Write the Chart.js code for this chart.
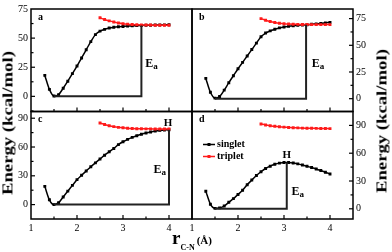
<!DOCTYPE html>
<html>
<head>
<meta charset="utf-8">
<script src="https://cdn.jsdelivr.net/npm/chart.js@4.4.1/dist/chart.umd.min.js"></script>
<style>
  body { margin: 0; background: #fff; }
  #wrap { position: relative; width: 392px; height: 252px; overflow: hidden; font-family: "Liberation Serif", serif; }
  canvas { position: absolute; left: 0; top: 0; }
  .ytitle { position: absolute; font-weight: bold; font-size: 17px; white-space: nowrap; line-height: 17px;
            transform: translate(-50%, -50%) rotate(-90deg) scale(1.1, 0.9); }
  #xtitle { position: absolute; left: 172px; top: 228px; font-weight: bold; font-size: 19px; line-height: 19px; white-space: nowrap; }
</style>
</head>
<body>
<div id="wrap">
  <canvas id="pa" width="392" height="252"></canvas>
  <canvas id="pb" width="392" height="252"></canvas>
  <canvas id="pc" width="392" height="252"></canvas>
  <canvas id="pd" width="392" height="252"></canvas>
  <div class="ytitle" style="left:7.5px;top:123px">Energy (kcal/mol)</div>
  <div class="ytitle" style="left:382px;top:121px">Energy (kcal/mol)</div>
  <div id="xtitle">r<span style="font-size:8px;position:relative;top:6px">C-N</span><span style="font-size:11px;margin-left:2px">(Å)</span></div>
</div>
<script>
// distancias C-N (Å)
const rSinglet = [1.3, 1.4, 1.5, 1.6, 1.7, 1.8, 1.9, 2.0, 2.1, 2.2, 2.3, 2.4, 2.5, 2.6, 2.7, 2.8, 2.9, 3.0,
                  3.1, 3.2, 3.3, 3.4, 3.5, 3.6, 3.7, 3.8, 3.9, 4.0];
const rTriplet = [2.5, 2.6, 2.7, 2.8, 2.9, 3.0, 3.1, 3.2, 3.3, 3.4, 3.5, 3.6, 3.7, 3.8, 3.9, 4.0];

// energias (kcal/mol) de cada panel
const singletA = [18, 6, 0.3, 1.5, 7, 13, 19.5, 26, 33, 40, 47, 53, 56, 57.5, 58.7, 59.3, 59.7, 60,
                  60.3, 60.5, 60.7, 60.9, 61, 61.1, 61.2, 61.3, 61.4, 61.5];
const tripletA = [67.5, 66, 64.8, 63.8, 63, 62.4, 62, 61.7, 61.5, 61.3, 61.2, 61.2, 61.1, 61.1, 61.1, 61.1];
const singletB = [19, 6, 0.5, 2, 8, 15, 21.5, 28, 34, 40, 46, 52, 58, 61.5, 63.5, 65, 66.3, 67.2,
                  67.8, 68.3, 68.7, 69, 69.3, 69.7, 70.1, 70.5, 71, 71.5];
const tripletB = [75, 73.5, 72.3, 71.4, 70.7, 70.2, 69.9, 69.7, 69.6, 69.5, 69.5, 69.4, 69.4, 69.4, 69.4, 69.4];
const singletC = [19, 5, 0, 2, 8, 14, 20, 26, 30.5, 35, 39.5, 43.5, 47.5, 51.5, 55, 58.5, 62.5, 65.5,
                  68, 70, 71.8, 73.3, 74.6, 75.7, 76.6, 77.3, 77.8, 78];
const tripletC = [85, 83.5, 82.2, 81.2, 80.5, 80, 79.6, 79.3, 79.1, 79, 78.9, 78.9, 78.8, 78.8, 78.8, 78.8];
const singletD = [19, 5, 0.5, 1, 3, 7, 11, 15.5, 20, 26, 31, 36, 40, 43.5, 46, 48, 49.3, 50,
                  50, 49.5, 48.5, 47.3, 46, 44.5, 43, 41.3, 39.5, 37.5];
const tripletD = [91.5, 90.5, 89.7, 89, 88.5, 88.1, 87.8, 87.5, 87.3, 87.1, 87, 86.9, 86.8, 86.7, 86.6, 86.5];

// linea de Ea: desde el minimo hasta el punto (eaX, eaY)
const eaStart = 1.5;
const eaX = [3.4, 3.48, 4.0, 3.06];
const eaY = [60.9, 69.2, 78, 50];
// posicion de las etiquetas "Ea" y "H"
const eaLabelX = [3.62, 3.74, 3.8, 3.3];
const eaLabelY = [27.7, 32.8, 36.5, 18.7];
const hLabelX = [null, null, 3.98, 3.06];
const hLabelY = [null, null, 85, 58];

// ejes
const xTicks = [1, 2, 3, 4];
const yTicksAB = [0, 25, 50, 75];
const yTicksCD = [0, 30, 60, 90];
const yMin = [-13, -12, -15, -11];
const yMax = [75, 84, 97, 105];
const panelLetters = ['a', 'b', 'c', 'd'];
const legendLabels = ['singlet', 'triplet'];

Chart.defaults.font.family = '"Liberation Serif", "Times New Roman", serif';
Chart.defaults.font.size = 10;
Chart.defaults.color = '#000';

const toXY = (xs, ys) => xs.map((x, i) => ({ x: x, y: ys[i] }));

// marco y marcas hacia adentro
const framePlugin = {
  id: 'frame',
  afterDatasetsDraw(chart, args, opts) {
    const { ctx, chartArea: a } = chart;
    ctx.save();
    ctx.strokeStyle = '#000';
    ctx.lineWidth = 1.2;
    const xs = chart.scales.x;
    xs.ticks.forEach(t => {
      if (t.value <= xs.min || t.value >= xs.max) return;
      const px = xs.getPixelForValue(t.value);
      const len = xTicks.includes(t.value) ? 4 : 2.5;
      ctx.beginPath(); ctx.moveTo(px, a.bottom); ctx.lineTo(px, a.bottom - len); ctx.stroke();
    });
    const ys = chart.scales.y;
    const right = ys.options.position === 'right';
    const edge = right ? a.right : a.left;
    const dir = right ? -1 : 1;
    ys.ticks.forEach(t => {
      if (t.value <= ys.min || t.value >= ys.max) return;
      const py = ys.getPixelForValue(t.value);
      const len = opts.major.includes(t.value) ? 4 : 2.5;
      ctx.beginPath(); ctx.moveTo(edge, py); ctx.lineTo(edge + dir * len, py); ctx.stroke();
    });
    ctx.lineWidth = 1.5;
    ctx.strokeRect(a.left, a.top, a.right - a.left, a.bottom - a.top);
    ctx.restore();
  }
};

// letras del panel, Ea, H y leyenda
const notesPlugin = {
  id: 'notes',
  afterDatasetsDraw(chart, args, opts) {
    const { ctx, chartArea: a } = chart;
    const xs = chart.scales.x, ys = chart.scales.y;
    const i = opts.index;
    ctx.save();
    ctx.fillStyle = '#000';
    ctx.textBaseline = 'middle';
    ctx.textAlign = 'left';
    ctx.font = 'bold 10px "Liberation Serif"';
    ctx.fillText(panelLetters[i], a.left + 7, a.top + 8);

    // Ea
    const ex = xs.getPixelForValue(eaLabelX[i]);
    const ey = ys.getPixelForValue(eaLabelY[i]);
    ctx.font = 'bold 12px "Liberation Serif"';
    const wE = ctx.measureText('E').width;
    ctx.font = 'bold 9px "Liberation Serif"';
    const wa = ctx.measureText('a').width;
    const x0 = ex - (wE + wa) / 2;
    ctx.font = 'bold 12px "Liberation Serif"';
    ctx.fillText('E', x0, ey);
    ctx.font = 'bold 9px "Liberation Serif"';
    ctx.fillText('a', x0 + wE, ey + 3);

    if (hLabelX[i] !== null) {
      ctx.font = 'bold 11px "Liberation Serif"';
      ctx.textAlign = 'center';
      ctx.fillText('H', xs.getPixelForValue(hLabelX[i]), ys.getPixelForValue(hLabelY[i]));
    }

    if (opts.legend) {
      const colors = ['#000', '#ff1a1a'];
      legendLabels.forEach((lab, k) => {
        const ly = a.top + 33 + k * 12;
        ctx.strokeStyle = colors[k];
        ctx.fillStyle = colors[k];
        ctx.lineWidth = 1.5;
        ctx.beginPath(); ctx.moveTo(a.left + 11, ly); ctx.lineTo(a.left + 23, ly); ctx.stroke();
        ctx.fillRect(a.left + 15.5, ly - 1.5, 3, 3);
        ctx.fillStyle = '#000';
        ctx.textAlign = 'left';
        ctx.font = 'bold 10px "Liberation Serif"';
        ctx.fillText(lab, a.left + 25, ly);
      });
    }
    ctx.restore();
  }
};

function makePanel(id, index, singlet, triplet, opt) {
  const major = index < 2 ? yTicksAB : yTicksCD;
  const step = (major[1] - major[0]) / 2;
  return new Chart(document.getElementById(id), {
    type: 'line',
    data: {
      datasets: [
        {
          label: 'Ea',
          data: [{ x: eaStart, y: 0 }, { x: eaX[index], y: 0 }, { x: eaX[index], y: eaY[index] }],
          borderColor: '#222',
          borderWidth: 2,
          pointRadius: 0,
          tension: 0
        },
        {
          label: 'triplet',
          data: toXY(rTriplet, triplet),
          borderColor: '#ff1a1a',
          backgroundColor: '#ff1a1a',
          borderWidth: 1.5,
          pointStyle: 'rect',
          pointRadius: 1,
          cubicInterpolationMode: 'monotone'
        },
        {
          label: 'singlet',
          data: toXY(rSinglet, singlet),
          borderColor: '#000',
          backgroundColor: '#000',
          borderWidth: 1.5,
          pointStyle: 'rect',
          pointRadius: 1,
          cubicInterpolationMode: 'monotone'
        }
      ]
    },
    options: {
      responsive: false,
      animation: false,
      layout: { padding: opt.padding },
      scales: {
        x: {
          type: 'linear',
          min: 1,
          max: 4.5,
          grid: { display: false, drawTicks: false },
          border: { display: false },
          ticks: {
            display: opt.xLabels,
            stepSize: 0.5,
            autoSkip: false,
            maxRotation: 0,
            padding: 3,
            includeBounds: false,
            callback: v => xTicks.includes(v) ? v : ''
          },
          afterFit: s => { s.height = opt.xLabels ? 16 : 0; }
        },
        y: {
          type: 'linear',
          position: opt.yPos,
          min: yMin[index],
          max: yMax[index],
          grid: { display: false, drawTicks: false },
          border: { display: false },
          ticks: {
            stepSize: step,
            autoSkip: false,
            padding: 3,
            includeBounds: false,
            callback: v => major.includes(v) ? v : ''
          },
          afterFit: s => { s.width = opt.yPos === 'left' ? 31 : 20; }
        }
      },
      plugins: {
        legend: { display: false },
        tooltip: { enabled: false },
        frame: { major: major },
        notes: { index: index, legend: opt.legend }
      }
    },
    plugins: [framePlugin, notesPlugin]
  });
}

makePanel('pa', 0, singletA, tripletA, { padding: { left: 0, right: 200, top: 5, bottom: 140.5 }, yPos: 'left', xLabels: false, legend: false });
makePanel('pb', 1, singletB, tripletB, { padding: { left: 192, right: 19, top: 5, bottom: 140.5 }, yPos: 'right', xLabels: false, legend: false });
makePanel('pc', 2, singletC, tripletC, { padding: { left: 0, right: 200, top: 111.5, bottom: 17 }, yPos: 'left', xLabels: true, legend: false });
makePanel('pd', 3, singletD, tripletD, { padding: { left: 192, right: 19, top: 111.5, bottom: 17 }, yPos: 'right', xLabels: true, legend: true });
</script>
</body>
</html>
